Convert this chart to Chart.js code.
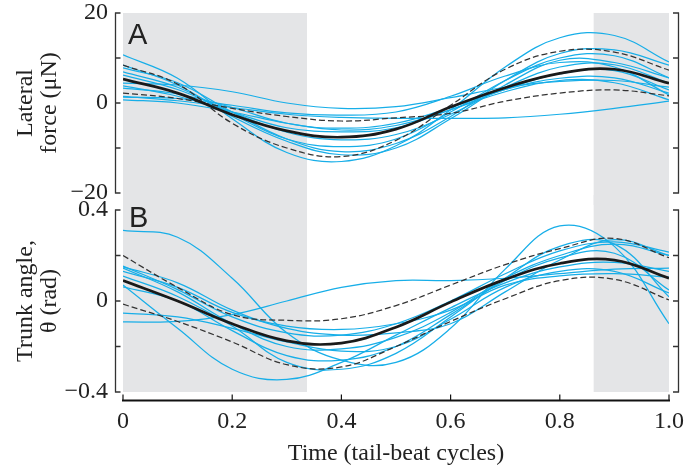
<!DOCTYPE html>
<html><head><meta charset="utf-8">
<script src="https://cdn.jsdelivr.net/npm/chart.js@4"></script>
<style>
html,body{margin:0;padding:0;background:#fff;}
#wrap{position:relative;width:686px;height:466px;overflow:hidden;background:#fff;}
canvas{position:absolute;left:0;}
#ca{top:0;}
#cb{top:195px;}
</style></head><body>
<div id="wrap">
<canvas id="ca" width="686" height="215"></canvas>
<canvas id="cb" width="686" height="271"></canvas>
</div>
<script>
// ---------- data ----------
const T = [0, 0.1, 0.2, 0.3, 0.4, 0.5, 0.6, 0.7, 0.8, 0.9, 1.0];
const xTickValues = [0, 0.2, 0.4, 0.6, 0.8, 1.0];
const xTickLabels = ['0', '0.2', '0.4', '0.6', '0.8', '1.0'];
const shadeSpans = [[0, 0.337], [0.862, 1.0]];

const forceTickValues = [-20, 0, 20];
const forceTickLabels = ['\u221220', '0', '20'];
const angleTickValues = [-0.4, 0, 0.4];
const angleTickLabels = ['\u22120.4', '0', '0.4'];

const forceMean = [5.3, 2.2, -2.6, -6.2, -7.6, -5.8, -0.9, 3.4, 6.6, 7.5, 4.4];
const forceHi   = [8.4, 4.2, -4.5, -10.0, -11.9, -8.3, -0.5, 7.5, 11.5, 11.3, 7.3];
const forceLo   = [2.2, 1.0, -1.2, -3.0, -4.0, -3.3, -2.3, 0.4, 2.2, 2.9, 1.6];
const forceTrial1  = [10.7, 5.5, -3.5, -11.0, -13.0, -9.5, -1.5, 8.0, 14.5, 15.0, 9.1];
const forceTrial2  = [7.8, 4.5, -2.0, -8.0, -10.8, -9.0, -3.0, 5.0, 11.0, 11.8, 8.4];
const forceTrial3  = [6.9, 3.5, -2.5, -8.0, -9.7, -8.0, -2.0, 5.0, 10.0, 10.5, 5.6];
const forceTrial4  = [6.2, 3.0, -2.0, -6.5, -8.2, -7.0, -2.5, 3.5, 8.0, 8.5, 4.4];
const forceTrial5  = [4.4, 4.0, 2.5, 0.0, -1.2, -0.8, 1.2, 3.5, 4.8, 5.0, 3.5];
const forceTrial6  = [3.8, 1.5, -2.0, -5.5, -6.4, -5.5, -1.5, 3.0, 6.5, 7.2, 2.9];
const forceTrial7  = [3.3, 2.0, -1.0, -4.5, -5.6, -4.5, -1.0, 3.0, 5.5, 5.6, 2.2];
const forceTrial8  = [1.3, 1.0, -0.5, -2.2, -2.7, -2.0, 1.5, 6.0, 9.0, 8.0, 1.8];
const forceTrial9  = [0.7, 0.0, -2.0, -4.5, -6.0, -5.0, -1.5, 2.5, 5.0, 4.5, 0.7];
const forceTrial10 = [1.5, 0.5, -1.0, -2.5, -3.2, -3.4, -3.4, -3.3, -2.5, -1.2, 0.4];
const forceTrial11 = [8.4, 4.0, -3.0, -8.5, -11.5, -10.0, -3.5, 4.0, 9.5, 9.0, 5.6];
const forceTrials = [forceTrial1, forceTrial2, forceTrial3, forceTrial4, forceTrial5, forceTrial6,
                     forceTrial7, forceTrial8, forceTrial9, forceTrial10, forceTrial11];

const angleMean = [0.09, 0.0, -0.10, -0.175, -0.185, -0.115, -0.005, 0.095, 0.165, 0.18, 0.10];
const angleHi   = [0.20, 0.06, -0.06, -0.085, -0.078, -0.02, 0.07, 0.16, 0.23, 0.275, 0.19];
const angleLo   = [-0.014, -0.09, -0.18, -0.28, -0.29, -0.20, -0.09, 0.01, 0.09, 0.095, 0.005];
const angleTrial1  = [0.31, 0.28, 0.10, -0.14, -0.26, -0.27, -0.12, 0.14, 0.33, 0.24, -0.10];
const angleTrial2  = [0.07, -0.12, -0.30, -0.345, -0.27, -0.15, -0.03, 0.08, 0.15, 0.17, 0.13];
const angleTrial3  = [-0.092, -0.09, -0.06, 0.0, 0.06, 0.09, 0.09, 0.10, 0.12, 0.14, 0.145];
const angleTrial4  = [0.154, 0.05, -0.07, -0.14, -0.15, -0.10, 0.0, 0.12, 0.22, 0.26, 0.215];
const angleTrial5  = [0.145, 0.04, -0.10, -0.20, -0.21, -0.16, -0.05, 0.10, 0.20, 0.25, 0.20];
const angleTrial6  = [0.13, 0.06, -0.05, -0.11, -0.125, -0.10, -0.04, 0.07, 0.11, 0.12, 0.105];
const angleTrial7  = [0.062, 0.0, -0.13, -0.24, -0.26, -0.20, -0.06, 0.09, 0.19, 0.21, 0.048];
const angleTrial8  = [-0.053, -0.07, -0.12, -0.18, -0.22, -0.20, -0.08, 0.06, 0.13, 0.13, 0.035];
const angleTrial9  = [0.11, 0.02, -0.11, -0.27, -0.30, -0.23, -0.07, 0.10, 0.24, 0.25, 0.018];
const angleTrial10 = [0.15, 0.08, -0.04, -0.12, -0.15, -0.14, -0.10, 0.04, 0.18, 0.27, 0.20];
const angleTrials = [angleTrial1, angleTrial2, angleTrial3, angleTrial4, angleTrial5,
                     angleTrial6, angleTrial7, angleTrial8, angleTrial9, angleTrial10];

// ---------- styles ----------
const INK = '#222';
const CYAN = '#17aee8';
const SHADE = '#e4e5e7';
const SERIF = '"Liberation Serif", "Times New Roman", serif';
Chart.defaults.font.family = SERIF;
Chart.defaults.color = INK;

const pts = arr => T.map((t, i) => ({x: t, y: arr[i]}));

function buildDatasets(mean, hi, lo, trials) {
  const ds = [];
  ds.push({data: pts(mean), borderColor: '#1a1a1a', borderWidth: 2.7, order: 0});
  ds.push({data: pts(hi), borderColor: '#333', borderWidth: 1.25, borderDash: [6, 3], order: 1});
  ds.push({data: pts(lo), borderColor: '#333', borderWidth: 1.25, borderDash: [6, 3], order: 1});
  trials.forEach(tr => ds.push({data: pts(tr), borderColor: CYAN, borderWidth: 1.25, order: 2}));
  ds.forEach(d => { d.pointRadius = 0; d.tension = 0.4; d.fill = false; });
  return ds;
}

function yScale(min, max, step, tickVals, tickLabels, titleLines) {
  return {
    type: 'linear', position: 'left', min, max,
    ticks: {
      stepSize: step, padding: 15, color: INK, font: {size: 24}, autoSkip: false,
      callback: v => { const i = tickVals.findIndex(t => Math.abs(t - v) < 1e-9); return i >= 0 ? tickLabels[i] : ''; }
    },
    grid: {display: false, drawTicks: false},
    border: {display: false},
    title: {display: true, text: titleLines, color: INK, font: {size: 24, lineHeight: 1.0}, padding: {top: 14, bottom: 0}},
    afterFit(s) { s.width = 123; s.paddingTop = 0; s.paddingBottom = 0; }
  };
}

const decor = {
  id: 'decor',
  beforeDatasetsDraw(chart, args, o) {
    const {ctx, chartArea: ca} = chart;
    const x = chart.scales.x;
    ctx.save();
    ctx.fillStyle = SHADE;
    const top = ca.top - o.shadeExtTop, bot = ca.bottom + o.shadeExtBottom;
    shadeSpans.forEach(([a, b]) => {
      const x0 = x.getPixelForValue(a), x1 = x.getPixelForValue(b);
      ctx.fillRect(x0, top, x1 - x0, bot - top);
    });
    ctx.restore();
  },
  afterDraw(chart, args, o) {
    const {ctx, chartArea: ca} = chart;
    const y = chart.scales.y, x = chart.scales.x;
    ctx.save();
    ctx.strokeStyle = '#333';
    ctx.lineWidth = 1.3;
    const lx = ca.left - 7.5, rx = ca.right + 9.5;
    const yt = y.getPixelForValue(y.max), yb = y.getPixelForValue(y.min);
    ctx.beginPath();
    ctx.moveTo(lx, yt); ctx.lineTo(lx, yb);
    ctx.moveTo(rx, yt); ctx.lineTo(rx, yb);
    y.ticks.forEach(t => {
      const p = y.getPixelForValue(t.value);
      ctx.moveTo(lx - 0.6, p); ctx.lineTo(lx + 5, p);
      ctx.moveTo(rx + 0.6, p); ctx.lineTo(rx - 5.5, p);
    });
    ctx.stroke();
    if (o.xAxis) {
      const yl = ca.bottom + 8.5;
      ctx.strokeStyle = '#111';
      ctx.lineWidth = 2;
      ctx.beginPath();
      ctx.moveTo(x.getPixelForValue(0) - 1, yl); ctx.lineTo(x.getPixelForValue(1) + 1, yl);
      ctx.stroke();
      ctx.lineWidth = 1.2;
      ctx.beginPath();
      xTickValues.forEach(v => { const p = x.getPixelForValue(v); ctx.moveTo(p, yl); ctx.lineTo(p, yl - 6); });
      ctx.stroke();
    }
    ctx.fillStyle = INK;
    ctx.font = '29px "Liberation Sans", Arial, sans-serif';
    ctx.textBaseline = 'alphabetic';
    ctx.textAlign = 'left';
    ctx.fillText(o.letter, ca.left + o.letterDx, ca.top + o.letterDy);
    ctx.restore();
  }
};

const xHidden = {type: 'linear', min: 0, max: 1, display: false};

new Chart(document.getElementById('ca'), {
  type: 'line',
  data: {datasets: buildDatasets(forceMean, forceHi, forceLo, forceTrials)},
  options: {
    responsive: false, animation: false,
    layout: {padding: {left: 0, right: 17, top: 13, bottom: 22}},
    scales: {
      x: xHidden,
      y: yScale(-20, 20, 10, forceTickValues, forceTickLabels, ['Lateral', 'force (\u03bcN)'])
    },
    plugins: {legend: {display: false}, tooltip: {enabled: false},
      decor: {shadeExtTop: 0, shadeExtBottom: 12, xAxis: false, letter: 'A', letterDx: 5, letterDy: 31}}
  },
  plugins: [decor]
});

new Chart(document.getElementById('cb'), {
  type: 'line',
  data: {datasets: buildDatasets(angleMean, angleHi, angleLo, angleTrials)},
  options: {
    responsive: false, animation: false,
    layout: {padding: {left: 0, right: 17, top: 15, bottom: 0}},
    scales: {
      x: {
        type: 'linear', min: 0, max: 1, position: 'bottom',
        afterBuildTicks(s) { s.ticks = xTickValues.map(v => ({value: v})); },
        ticks: {padding: 15, color: INK, font: {size: 24}, maxRotation: 0, autoSkip: false,
          callback: (v, i) => xTickLabels[i]},
        grid: {display: false, drawTicks: false},
        border: {display: false},
        title: {display: true, text: 'Time (tail-beat cycles)', color: INK, font: {size: 24, lineHeight: 1.0}, padding: {top: 0, bottom: 0}},
        afterFit(s) { s.height = 74; s.paddingLeft = 0; s.paddingRight = 0; }
      },
      y: yScale(-0.4, 0.4, 0.2, angleTickValues, angleTickLabels, ['Trunk angle,', '\u03b8 (rad)'])
    },
    plugins: {legend: {display: false}, tooltip: {enabled: false},
      decor: {shadeExtTop: 15, shadeExtBottom: 0, xAxis: true, letter: 'B', letterDx: 6, letterDy: 17}}
  },
  plugins: [decor]
});
</script>
</body></html>
